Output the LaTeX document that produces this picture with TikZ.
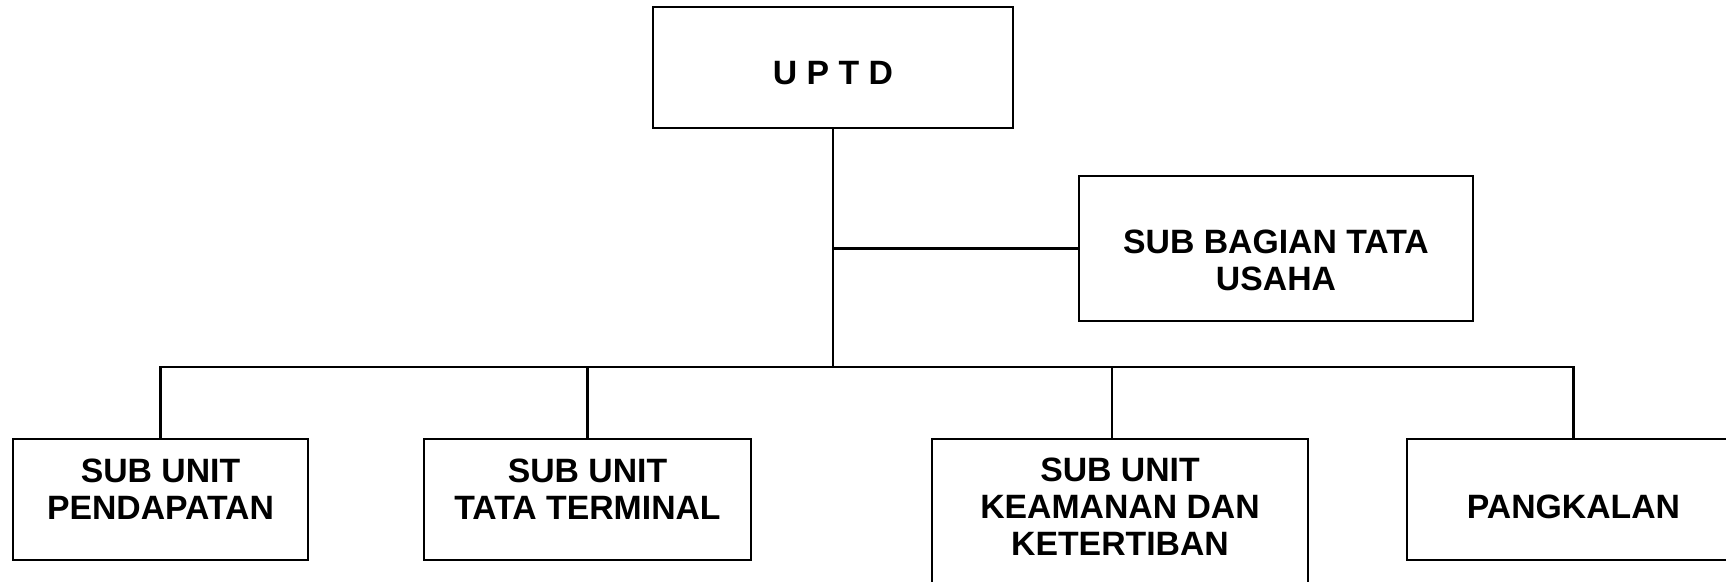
\documentclass[tikz,border=0pt]{standalone}
\usepackage{fontspec}
\setmainfont{Liberation Sans}
\begin{document}
\begin{tikzpicture}[
      x=0.01cm, y=-0.01cm,
      line width=0.6pt,
      orgbox/.style={draw, line width=0.6pt, align=center,
          font=\fontsize{9.6}{10.5}\selectfont\bfseries, inner sep=0pt},
    ]
    \clip (0,0) rectangle (1726,581);
    % top
    \node[orgbox, minimum width=3.6cm, minimum height=1.21cm,
      text height=10pt] (uptd) at (833,67.5) {U P T D};
    \node[orgbox, minimum width=3.94cm, minimum height=1.45cm,
      text height=24pt] (tatausaha) at (1276,248.5) {SUB BAGIAN TATA\\USAHA};
    % units
    \node[orgbox, minimum width=2.95cm, minimum height=1.21cm,
      text depth=6pt] (pendapatan) at (160.5,499.5) {SUB UNIT\\PENDAPATAN};
    \node[orgbox, minimum width=3.27cm, minimum height=1.21cm,
      text depth=6pt] (terminal) at (587.5,499.5) {SUB UNIT\\TATA TERMINAL};
    \node[orgbox, minimum width=3.76cm, minimum height=1.61cm,
      text depth=7.4pt] (keamanan) at (1120,519.5) {SUB UNIT\\KEAMANAN DAN\\KETERTIBAN};
    \node[orgbox, minimum width=3.33cm, minimum height=1.21cm,
      text height=11pt] (pangkalan) at (1573.5,499.5) {PANGKALAN};
    \coordinate (bar) at (833,367);
    % lines
    \draw (uptd.south) -- (bar);
    \draw (uptd.south |- tatausaha.west) -- (tatausaha.west);
    \draw (pendapatan.north) |- (bar) -| (pangkalan.north);
    \draw (terminal.north) -- (terminal.north |- bar);
    \draw ([xshift=-0.08cm]keamanan.north) -- ([xshift=-0.08cm]keamanan.north |- bar);
  \end{tikzpicture}
\end{document}
